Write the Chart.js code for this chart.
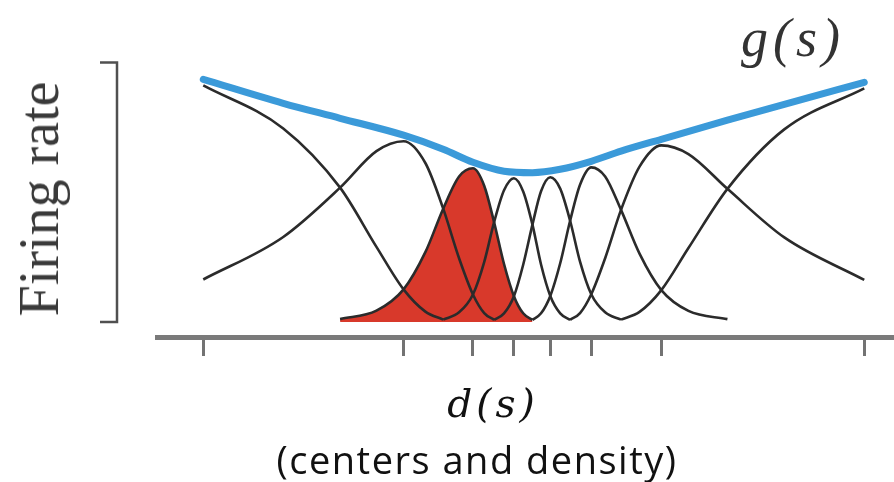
<!DOCTYPE html>
<html><head><meta charset="utf-8">
<script src="https://cdn.jsdelivr.net/npm/chart.js@4.4.1/dist/chart.umd.min.js"></script>
<style>
html,body{margin:0;padding:0;background:#fff;}
#wrap{position:relative;width:894px;height:482px;overflow:hidden;background:#fff;}
#c{position:absolute;left:0;top:0;}
.lbl{position:absolute;white-space:nowrap;line-height:1;}
#ylab{font-family:"Liberation Serif",serif;font-size:56px;color:#3a3a3a;left:39px;top:199px;transform:translate(-50%,-50%) rotate(-90deg);}
#glab{font-family:"Liberation Serif",serif;font-style:italic;font-size:54px;color:#333;left:741px;top:11px;letter-spacing:5px;}
#dlab{font-family:"DejaVu Serif",serif;font-style:italic;font-size:39px;color:#111;left:493px;top:384px;transform:translateX(-50%);letter-spacing:4px;}
#clab{font-family:"Open Sans",sans-serif;font-size:38px;color:#111;left:477px;top:440px;transform:translateX(-50%);letter-spacing:1.5px;}
</style></head><body>
<div id="wrap">
<canvas id="c" width="894" height="482"></canvas>
<div class="lbl" id="ylab">Firing rate</div>
<div class="lbl" id="glab">g(s)</div>
<div class="lbl" id="dlab">d(s)</div>
<div class="lbl" id="clab">(centers and density)</div>
</div>
<script>
// Preferred stimulus centres (tick positions) on the stimulus axis s (0..100)
const centers = [0, 30.3, 40.8, 47.0, 52.5, 58.7, 69.3, 100];
// Positions along s where the tuning curves were read
const sGrid = [0, 12.1, 20.7, 26.2, 30.3, 33.6, 36.3, 38.7, 40.8, 42.5, 44.0, 45.5, 47.0, 48.4, 49.8,
               51.1, 52.5, 54.0, 55.5, 57.0, 58.7, 60.8, 63.2, 66.0, 69.3, 73.4, 79.3, 87.9, 100];
const _ = null;
// Tuning curves (normalised firing rate)
const curve1 = [0.979, 0.801, 0.556, 0.311, 0.135, 0.043, 0.010, _, _, _, _, _, _, _, _, _, _, _, _, _, _, _, _, _, _, _, _, _, _];
const curve2 = [0.176, 0.352, 0.556, 0.707, 0.748, 0.658, 0.469, 0.264, 0.114, 0.037, 0.009, _, _, _, _, _, _, _, _, _, _, _, _, _, _, _, _, _, _];
const curve3 = [_, _, 0.012, 0.047, 0.135, 0.289, 0.469, 0.602, 0.636, 0.564, 0.413, 0.240, 0.107, 0.036, 0.009, _, _, _, _, _, _, _, _, _, _, _, _, _, _];
const curve4 = [_, _, _, _, _, _, 0.010, 0.040, 0.114, 0.248, 0.413, 0.545, 0.595, 0.540, 0.403, 0.238, 0.108, 0.036, 0.009, _, _, _, _, _, _, _, _, _, _];
const curve5 = [_, _, _, _, _, _, _, _, _, _, 0.009, 0.036, 0.107, 0.237, 0.403, 0.541, 0.599, 0.552, 0.419, 0.250, 0.115, 0.040, 0.010, _, _, _, _, _, _];
const curve6 = [_, _, _, _, _, _, _, _, _, _, _, _, _, _, 0.009, 0.036, 0.108, 0.243, 0.419, 0.568, 0.640, 0.602, 0.464, 0.283, 0.132, 0.046, 0.012, _, _];
const curve7 = [_, _, _, _, _, _, _, _, _, _, _, _, _, _, _, _, _, _, 0.009, 0.037, 0.115, 0.264, 0.464, 0.643, 0.731, 0.695, 0.551, 0.350, 0.174];
const curve8 = [_, _, _, _, _, _, _, _, _, _, _, _, _, _, _, _, _, _, _, _, _, _, 0.010, 0.042, 0.132, 0.306, 0.551, 0.797, 0.967];
// Gain envelope g(s)
const gainS = [0, 12.1, 20.7, 30.3, 36.3, 40.8, 45.5, 49.8, 54.0, 58.7, 63.2, 69.3, 79.3, 87.9, 100];
const gainV = [1.004, 0.905, 0.843, 0.773, 0.715, 0.661, 0.624, 0.618, 0.632, 0.665, 0.707, 0.756, 0.835, 0.901, 0.992];

const pts = (xs, ys) => xs.map((x, i) => ({x: x, y: ys[i]})).filter(p => p.y !== null);

const BLACK = '#2b2b2b', BLUE = '#3b9ad9', RED = '#d8392b';
const blackCurve = (arr) => ({data: pts(sGrid, arr), borderColor: BLACK, borderWidth: 2.6, fill: false, pointRadius: 0, cubicInterpolationMode: 'monotone'});

const datasets = [
  {data: pts(gainS, gainV), borderColor: BLUE, borderWidth: 7, borderCapStyle: 'round', borderJoinStyle: 'round', fill: false, pointRadius: 0, cubicInterpolationMode: 'monotone'},
  blackCurve(curve1), blackCurve(curve2), blackCurve(curve4), blackCurve(curve5),
  blackCurve(curve6), blackCurve(curve7), blackCurve(curve8),
  Object.assign(blackCurve(curve3), {fill: 'origin', backgroundColor: RED})
];

const bracket = {
  id: 'bracket',
  afterDraw(chart) {
    const ctx = chart.ctx, y = chart.scales.y, a = chart.chartArea;
    const x0 = a.left - 40, x1 = a.left - 57;
    const top = y.getPixelForValue(1.074), bot = y.getPixelForValue(0);
    ctx.save();
    ctx.strokeStyle = '#505050'; ctx.lineWidth = 2.5; ctx.lineJoin = 'miter';
    ctx.beginPath();
    ctx.moveTo(x1, top); ctx.lineTo(x0, top); ctx.lineTo(x0, bot); ctx.lineTo(x1, bot);
    ctx.stroke();
    ctx.restore();
  }
};

new Chart(document.getElementById('c'), {
  type: 'line',
  data: {datasets: datasets},
  options: {
    responsive: false, animation: false, devicePixelRatio: 1,
    layout: {padding: {left: 157, right: 0, top: 32, bottom: 0}},
    plugins: {legend: {display: false}, tooltip: {enabled: false}, filler: {drawTime: 'beforeDatasetsDraw'}},
    scales: {
      x: {
        type: 'linear', min: -7.0, max: 104.5,
        afterBuildTicks: s => { s.ticks = centers.map(v => ({value: v})); },
        afterFit: s => { s.height = 145; },
        ticks: {display: false},
        grid: {drawOnChartArea: false, drawTicks: true, tickLength: 19, color: '#737373', lineWidth: 3},
        border: {display: true, color: '#7a7a7a', width: 5}
      },
      y: {type: 'linear', min: -0.062, max: 1.2, display: false}
    }
  },
  plugins: [bracket]
});
</script>
</body></html>
